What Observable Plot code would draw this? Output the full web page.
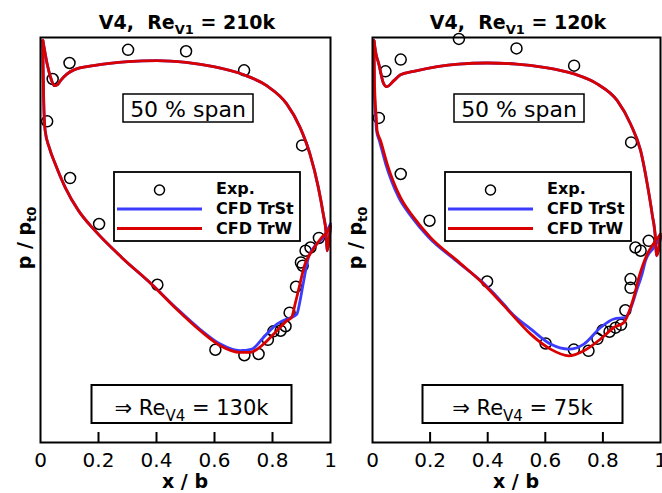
<!DOCTYPE html>
<html><head><meta charset="utf-8">
<script src="https://cdn.jsdelivr.net/npm/d3@7"></script>
<script src="https://cdn.jsdelivr.net/npm/@observablehq/plot@0.6"></script>
<style>
body{margin:0;background:#fff;}
#chart{display:flex;width:662px;height:493px;overflow:hidden;background:#fff;}
#chart svg{flex-shrink:0;}
</style></head><body><div id="chart"></div>
<script>
// ---- tick values ----
const xTickValues = [0, 0.2, 0.4, 0.6, 0.8, 1];
const innerTickValues = [0.2, 0.4, 0.6, 0.8];

// ---- texts ----
const titleLeft = [["V4,  Re", false], ["V1", true], [" = 210k", false]];
const titleRight = [["V4,  Re", false], ["V1", true], [" = 120k", false]];
const reLeft = [["\u21D2 Re", false], ["V4", true], [" = 130k", false]];
const reRight = [["\u21D2 Re", false], ["V4", true], [" = 75k", false]];
const spanLabel = "50 % span";
const legendLabels = ["Exp.", "CFD TrSt", "CFD TrW"];

// ---- LEFT panel data: [x/b, p/pt0] ----
const leftExp = [[0.023,0.9586],[0.042,0.9795],[0.100,0.9874],[0.302,0.9939],[0.502,0.9932],[0.702,0.9838],[0.902,0.9467],[0.102,0.9306],[0.202,0.9079],[0.403,0.8779],[0.603,0.8458],[0.703,0.8431],[0.752,0.8437],[0.784,0.8507],[0.803,0.8549],[0.828,0.8552],[0.845,0.8574],[0.859,0.8641],[0.881,0.8769],[0.898,0.8889],[0.904,0.8873],[0.914,0.8947],[0.931,0.8963],[0.960,0.9010]];
const leftUpper = [[0.008,0.9985],[0.015,0.993],[0.023,0.9869],[0.034,0.9807],[0.048,0.9762],[0.059,0.9767],[0.069,0.9787],[0.092,0.982],[0.115,0.984],[0.183,0.9861],[0.302,0.9881],[0.402,0.9886],[0.502,0.9877],[0.597,0.9856],[0.701,0.9816],[0.780,0.9762],[0.849,0.9672],[0.895,0.9556],[0.929,0.9425],[0.958,0.926],[0.975,0.9128],[0.985,0.9031],[0.988,0.8947],[1.0,0.907]];
const leftLowerTrW = [[0.008,0.9985],[0.009,0.985],[0.011,0.9688],[0.016,0.954],[0.030,0.9457],[0.051,0.9375],[0.085,0.926],[0.131,0.9145],[0.188,0.9046],[0.280,0.8914],[0.383,0.8782],[0.469,0.8659],[0.551,0.8552],[0.620,0.8478],[0.688,0.8445],[0.723,0.8445],[0.769,0.8486],[0.815,0.8552],[0.849,0.8601],[0.866,0.8618],[0.878,0.8684],[0.889,0.8749],[0.912,0.8881],[0.941,0.8955],[0.970,0.9013],[0.992,0.9046],[1.0,0.907]];
const leftLowerTrSt = [[0.008,0.9985],[0.009,0.985],[0.011,0.9688],[0.016,0.954],[0.030,0.9457],[0.051,0.9375],[0.085,0.926],[0.131,0.9145],[0.188,0.9046],[0.280,0.8914],[0.383,0.8782],[0.469,0.8663],[0.551,0.8558],[0.620,0.8486],[0.688,0.8453],[0.729,0.8461],[0.769,0.8519],[0.815,0.8585],[0.849,0.861],[0.866,0.8618],[0.884,0.8634],[0.895,0.870],[0.904,0.877],[0.912,0.8832],[0.924,0.8914],[0.952,0.898],[0.975,0.9013],[1.0,0.908]];

// ---- RIGHT panel data ----
const rightExp = [[0.022,0.9603],[0.045,0.9833],[0.098,0.9891],[0.300,0.9993],[0.500,0.9946],[0.700,0.9861],[0.898,0.9482],[0.098,0.9326],[0.198,0.9095],[0.398,0.8795],[0.601,0.8489],[0.699,0.8459],[0.750,0.8453],[0.781,0.8512],[0.799,0.8554],[0.823,0.8547],[0.844,0.8567],[0.863,0.8581],[0.878,0.8653],[0.896,0.8764],[0.896,0.8807],[0.913,0.8963],[0.931,0.8947],[0.959,0.8996]];
const rightUpper = [[0.005,0.9984],[0.012,0.992],[0.022,0.9869],[0.037,0.9778],[0.049,0.9757],[0.074,0.9787],[0.097,0.9816],[0.143,0.9833],[0.298,0.9869],[0.398,0.9874],[0.5,0.9869],[0.595,0.9853],[0.700,0.982],[0.780,0.9771],[0.850,0.9688],[0.896,0.9573],[0.931,0.9441],[0.954,0.9277],[0.971,0.9128],[0.983,0.8996],[0.986,0.8922],[1.0,0.9019]];
const rightLowerTrW = [[0.005,0.9984],[0.007,0.977],[0.013,0.9606],[0.016,0.954],[0.028,0.949],[0.051,0.9375],[0.097,0.921],[0.143,0.9112],[0.201,0.9013],[0.294,0.8898],[0.386,0.8782],[0.462,0.8667],[0.479,0.864],[0.549,0.8535],[0.618,0.8461],[0.682,0.8428],[0.734,0.8453],[0.792,0.8511],[0.838,0.8568],[0.873,0.8593],[0.890,0.8642],[0.907,0.8716],[0.925,0.8815],[0.954,0.893],[0.983,0.8996],[1.0,0.903]];
const rightLowerTrSt = [[0.005,0.9984],[0.006,0.977],[0.011,0.9606],[0.014,0.954],[0.024,0.949],[0.046,0.9375],[0.091,0.921],[0.137,0.9112],[0.195,0.9013],[0.290,0.8898],[0.386,0.8786],[0.462,0.8673],[0.479,0.8645],[0.549,0.8561],[0.618,0.8486],[0.682,0.8461],[0.734,0.8486],[0.792,0.8568],[0.838,0.861],[0.878,0.8618],[0.896,0.866],[0.917,0.875],[0.936,0.8832],[0.948,0.8898],[0.977,0.8963],[1.0,0.9013]];

const BLUE = "#3c3cff", RED = "#d90000";
const FONT = "'DejaVu Sans', 'Liberation Sans', Arial, sans-serif";

function addRich(sel, x, y, parts, size, subSize, weight, anchor, transform) {
  const t = sel.append("text").attr("x", x).attr("y", y)
    .attr("text-anchor", anchor || "middle").attr("font-size", size)
    .attr("font-weight", weight).attr("fill", "black")
    .attr("font-family", FONT).style("white-space", "pre");
  if (transform) t.attr("transform", transform);
  let shifted = false;
  const shift = subSize * 0.38;
  for (const [s, sub] of parts) {
    const ts = t.append("tspan").text(s);
    if (sub) { ts.attr("font-size", subSize); if (!shifted) ts.attr("dy", shift); shifted = true; }
    else if (shifted) { ts.attr("dy", -shift); shifted = false; }
  }
  return t;
}

function makePanel({exp, upper, lowerSt, lowerW, title, re, marginLeft, marginRight}) {
  const width = 331;
  const svg = Plot.plot({
    width, height: 493,
    marginLeft, marginRight, marginTop: 37, marginBottom: 51,
    style: {fontFamily: FONT, background: "none", overflow: "visible"},
    x: {domain: [0, 1]},
    y: {domain: [0.8, 1.0], axis: null},
    marks: [
      Plot.dot(exp, {x: d => d[0], y: d => d[1], r: 5.5, stroke: "black", strokeWidth: 1.5, fill: "none"}),
      Plot.line(upper, {x: d => d[0], y: d => d[1], stroke: BLUE, strokeWidth: 2.8, curve: "monotone-x"}),
      Plot.line(lowerSt, {x: d => d[0], y: d => d[1], stroke: BLUE, strokeWidth: 2.8, curve: "monotone-x"}),
      Plot.line(upper, {x: d => d[0], y: d => d[1], stroke: RED, strokeWidth: 2.8, curve: "monotone-x"}),
      Plot.line(lowerW, {x: d => d[0], y: d => d[1], stroke: RED, strokeWidth: 2.8, curve: "monotone-x"}),
      Plot.tickX(innerTickValues, {x: d => d, stroke: "black", strokeWidth: 2, insetTop: 395}),
      Plot.axisX({ticks: xTickValues, tickSize: 0, tickPadding: 10, fontSize: 20, tickFormat: d => String(d), label: null, fill: "black"}),
      Plot.frame({stroke: "black", strokeWidth: 2})
    ]
  });
  const s = d3.select(svg);
  const xs = svg.scale("x");
  const cx = (xs.range[0] + xs.range[1]) / 2;
  // title
  addRich(s, cx + 2, 29, title, 19, 13, "bold");
  // y label
  addRich(s, 0, 0, [["p / p", false], ["t0", true]], 19, 13, "bold", "middle", "translate(31,238) rotate(-90)");
  // x label
  s.append("text").attr("x", cx).attr("y", 488).attr("text-anchor", "middle")
    .attr("font-size", 19).attr("font-weight", "bold").attr("font-family", FONT).text("x / b");
  // 50 % span box
  s.append("rect").attr("x", 123).attr("y", 94).attr("width", 130).attr("height", 28)
    .attr("fill", "white").attr("stroke", "black").attr("stroke-width", 1.5);
  s.append("text").attr("x", 188).attr("y", 116.5).attr("text-anchor", "middle")
    .attr("font-size", 22).attr("font-family", FONT).text(spanLabel);
  // legend
  const lg = s.append("g");
  lg.append("rect").attr("x", 114).attr("y", 172).attr("width", 186).attr("height", 69)
    .attr("fill", "white").attr("stroke", "black").attr("stroke-width", 1.8);
  lg.append("circle").attr("cx", 159.5).attr("cy", 190).attr("r", 5).attr("fill", "none")
    .attr("stroke", "black").attr("stroke-width", 1.5);
  lg.append("line").attr("x1", 117).attr("x2", 202).attr("y1", 209).attr("y2", 209)
    .attr("stroke", BLUE).attr("stroke-width", 2.8);
  lg.append("line").attr("x1", 117).attr("x2", 202).attr("y1", 228.5).attr("y2", 228.5)
    .attr("stroke", RED).attr("stroke-width", 2.8);
  [193.5, 214, 233.5].forEach((y, i) => {
    lg.append("text").attr("x", 216).attr("y", y).attr("text-anchor", "start")
      .attr("font-size", 16).attr("font-weight", "bold")
      .attr("font-family", FONT).text(legendLabels[i]);
  });
  // Re box
  s.append("rect").attr("x", 91.5).attr("y", 385).attr("width", 200).attr("height", 38)
    .attr("fill", "white").attr("stroke", "black").attr("stroke-width", 2);
  addRich(s, 191.5, 415, re, 21, 15, "normal");
  return svg;
}

const chart = document.getElementById("chart");
chart.appendChild(makePanel({exp: leftExp, upper: leftUpper, lowerSt: leftLowerTrSt, lowerW: leftLowerTrW,
  title: titleLeft, re: reLeft, marginLeft: 40, marginRight: 1}));
chart.appendChild(makePanel({exp: rightExp, upper: rightUpper, lowerSt: rightLowerTrSt, lowerW: rightLowerTrW,
  title: titleRight, re: reRight, marginLeft: 41, marginRight: 2}));
</script></body></html>
